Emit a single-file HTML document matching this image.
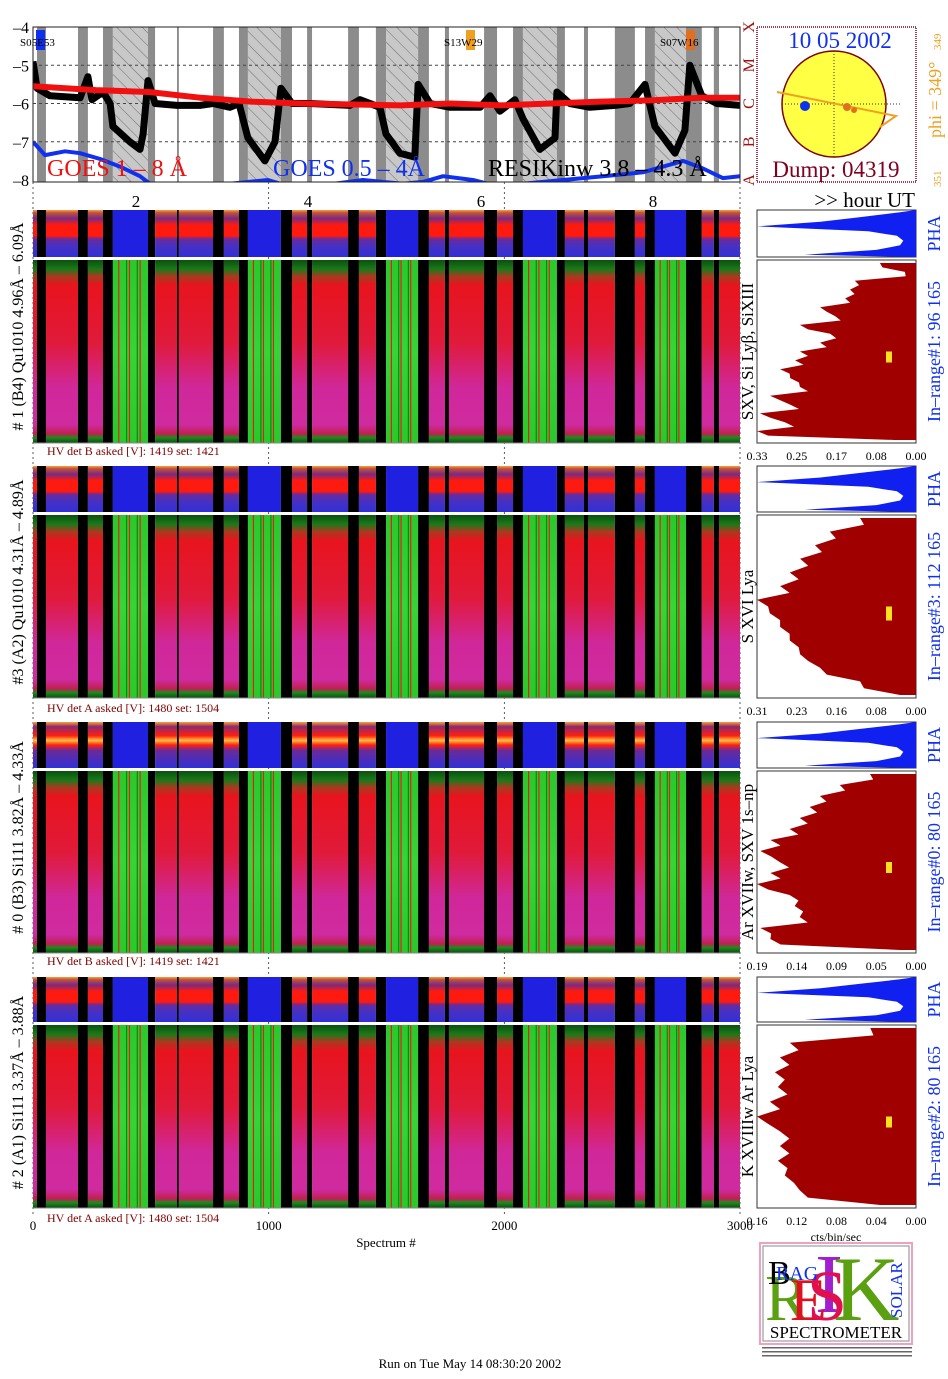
<!DOCTYPE html>
<html><head><meta charset="utf-8"><style>
html,body{margin:0;padding:0;background:#fff;}
svg{display:block;font-family:"Liberation Serif",serif;}
</style></head><body>
<svg id="c" width="948" height="1379" viewBox="0 0 948 1379" xmlns="http://www.w3.org/2000/svg">
<defs>
<pattern id="hatch" patternUnits="userSpaceOnUse" width="9" height="9" patternTransform="rotate(-45)"><rect width="9" height="9" fill="#c8c8c8"/><line x1="0" y1="0" x2="0" y2="9" stroke="#555" stroke-width="0.8"/></pattern>
<linearGradient id="gRed" x1="0" y1="0" x2="0" y2="1">
<stop offset="0" stop-color="#0b4f10"/><stop offset="0.05" stop-color="#1a7a18"/><stop offset="0.09" stop-color="#a83a20"/><stop offset="0.14" stop-color="#e8141e"/><stop offset="0.45" stop-color="#e01a3a"/><stop offset="0.7" stop-color="#d0289a"/><stop offset="0.9" stop-color="#d02aa0"/><stop offset="0.95" stop-color="#c02050"/><stop offset="0.97" stop-color="#1f8a1e"/><stop offset="1" stop-color="#0b4f10"/></linearGradient>
<linearGradient id="gGreen" x1="0" y1="0" x2="0" y2="1">
<stop offset="0" stop-color="#2bc82b"/><stop offset="0.5" stop-color="#36d436"/><stop offset="1" stop-color="#2bc82b"/></linearGradient>
<linearGradient id="gStrip" x1="0" y1="0" x2="0" y2="1">
<stop offset="0" stop-color="#ffa030"/><stop offset="0.06" stop-color="#c05040"/><stop offset="0.18" stop-color="#7a2a80"/><stop offset="0.32" stop-color="#ff1a10"/><stop offset="0.55" stop-color="#ff1a10"/><stop offset="0.62" stop-color="#6a2a9a"/><stop offset="0.75" stop-color="#4a30c0"/><stop offset="1" stop-color="#3030d8"/></linearGradient>
<linearGradient id="gStrip3" x1="0" y1="0" x2="0" y2="1">
<stop offset="0" stop-color="#ffa030"/><stop offset="0.1" stop-color="#8a2a70"/><stop offset="0.3" stop-color="#ff2010"/><stop offset="0.4" stop-color="#ffc040"/><stop offset="0.5" stop-color="#ff2010"/><stop offset="0.62" stop-color="#6a2a9a"/><stop offset="1" stop-color="#3030d8"/></linearGradient>
</defs>
<g id="top"></g>
<g id="panels"></g>
<g id="right"></g>
</svg>
<script>
// ---- data ----
const segStart = [0,17,55,191,233,297,339,488,518,611,619,764,810,874,912,1052,1099,1163,1184,1337,1383,1455,1498,1634,1680,1748,1765,1914,1969,2037,2079,2223,2257,2338,2355,2469,2554,2597,2639,2771,2838,2889,2911];
const segType  = ['r','b','r','b','r','b','g','b','r','b','r','b','r','b','g','b','r','b','r','b','r','b','g','b','r','b','r','b','r','b','g','b','r','b','r','b','r','b','g','b','r','b','r'];
const goesX = [0,267,492,713,925,1137,1561,1773,1985,2197,2409,2621,2833,3000];
const goesLong = [-5.55,-5.65,-5.7,-5.85,-5.95,-6.0,-6.05,-6.0,-6.05,-6.0,-5.95,-5.92,-5.85,-5.85];
const resikX = [0,17,72,200,233,250,297,327,339,411,454,467,488,518,611,708,764,836,874,912,984,1027,1052,1099,1175,1345,1387,1472,1498,1557,1620,1634,1685,1769,1897,1939,1981,2045,2079,2151,2215,2223,2278,2363,2469,2533,2597,2639,2724,2766,2787,2838,2902,3000];
const resikV = [-4.9,-5.6,-5.8,-5.85,-5.3,-5.9,-5.7,-6.0,-6.6,-7.0,-7.2,-6.8,-5.4,-6.0,-6.05,-6.05,-6.0,-6.1,-6.0,-6.9,-7.5,-7.0,-5.6,-6.0,-6.0,-6.05,-5.9,-6.1,-6.8,-7.3,-7.4,-5.5,-6.0,-6.1,-6.1,-5.8,-6.2,-5.9,-6.4,-7.2,-6.9,-5.7,-6.0,-6.1,-6.05,-6.0,-5.5,-6.6,-7.3,-6.7,-5.0,-5.8,-6.0,-6.05];
const shortX = [0,51,136,200,285,369,454,518,836,997,1103,1274,1400,1570,1655,1740,1867,1994,2079,2249,2419,2588,2758,2843,2927,3000];
const goesShort = [-7.0,-7.35,-7.25,-7.3,-7.45,-7.65,-7.9,-8.2,-8.1,-8.0,-8.2,-8.1,-8.0,-8.1,-8.05,-7.9,-8.0,-8.2,-8.1,-8.0,-7.9,-7.8,-7.5,-7.7,-7.95,-7.9];
const yTicks = [-4,-5,-6,-7,-8];
const hourTicks = ['2','4','6','8'];
const hourPos = [136,308,481,653];
const specTicks = [0,1000,2000,3000];
const panelLabels = ['# 1 (B4) Qu1010 4.96Å – 6.09Å','#3 (A2) Qu1010  4.31Å – 4.89Å','# 0 (B3) Si111  3.82Å – 4.33Å','# 2 (A1) Si111  3.37Å – 3.88Å'];
const lineLabels = ['SXV, Si Lyβ, SiXIII','S XVI Lya','Ar XVIIw,  SXV 1s–np','K XVIIIw  Ar Lya'];
const rangeLabels = ['In–range#1:  96 165','In–range#3:  112 165','In–range#0:  80 165','In–range#2:  80 165'];
const hvLabels = ['HV det B asked [V]:  1419 set:  1421','HV det A asked [V]:  1480 set:  1504','HV det B asked [V]:  1419 set:  1421','HV det A asked [V]:  1480 set:  1504'];
const histMax = [0.33,0.31,0.19,0.16];
const histTicks = [['0.33','0.25','0.17','0.08','0.00'],['0.31','0.23','0.16','0.08','0.00'],['0.19','0.14','0.09','0.05','0.00'],['0.16','0.12','0.08','0.04','0.00']];
const hist0 = [0.075,0.023,0.127,0.137,0.147,0.199,0.168,0.241,0.178,0.199,0.241,0.251,0.282,0.261,0.241,0.303,0.261,0.324,0.272,0.33,0.044];
const hist1 = [0.109,0.168,0.197,0.226,0.246,0.265,0.31,0.285,0.265,0.246,0.226,0.187,0.109,0.031];
const hist2 = [0.055,0.091,0.115,0.127,0.139,0.151,0.174,0.186,0.163,0.174,0.19,0.151,0.145,0.139,0.186,0.174,0.019];
const hist3 = [0.046,0.127,0.137,0.142,0.139,0.147,0.16,0.137,0.137,0.139,0.132,0.117,0.036];
const pha = [0.1,0.35,0.6,1.0,0.3,0.12,0.08,0.1,0.25,0.7];

// ---- helpers ----
const NS='http://www.w3.org/2000/svg';
function mk(tag, parent, attrs){const e=document.createElementNS(NS,tag);for(const k in attrs)e.setAttribute(k,attrs[k]);parent.appendChild(e);return e;}
function txt(parent,x,y,s,size,fill,extra){const e=mk('text',parent,Object.assign({x:x,y:y,'font-size':size,fill:fill},extra||{}));e.textContent=s;return e;}
const X0=33,X1=740;
const sx = s => X0 + (s/3000)*(X1-X0);
const TOP=document.getElementById('top'), PAN=document.getElementById('panels'), RT=document.getElementById('right');
const segEnd = i => (i+1<segStart.length?segStart[i+1]:3000);

// ---- top GOES plot ----
const ty = v => 27 + (-4 - v)*(180-27)/4;
const tframe = mk('rect',TOP,{x:X0,y:27,width:X1-X0,height:155,fill:'#fff'});


segStart.forEach((s,i)=>{
  if(segType[i]==='r') return;
  const r=mk('rect',TOP,{x:sx(s),y:27,width:sx(segEnd(i))-sx(s),height:155,fill:segType[i]==='b'?'#8c8c8c':'url(#hatch)'});
  
  
});
[-5,-6,-7].forEach(v=>{const l=mk('line',TOP,{x1:X0,x2:X1,y1:ty(v),y2:ty(v),stroke:'#444','stroke-dasharray':'3,3','stroke-width':1});
  
  });
const clip=mk('clipPath',TOP,{id:'tclip'});mk('rect',clip,{x:X0,y:27,width:X1-X0,height:155});
const cg=mk('g',TOP,{'clip-path':'url(#tclip)'});
function curve(xs,vs,color,w,name){const d=xs.map((x,i)=>(i?'L':'M')+sx(x).toFixed(1)+','+ty(vs[i]).toFixed(1)).join('');
  const p=mk('path',cg,{d:d,fill:'none',stroke:color,'stroke-width':w,'stroke-linejoin':'round'});
  
  }
curve(shortX,goesShort,'#1030f0',4,'goes-short-line');
curve(resikX,resikV,'#000',7,'resik-flux-line');
curve(goesX,goesLong,'#f01010',6,'goes-long-line');
const tb=mk('rect',TOP,{x:X0,y:27,width:X1-X0,height:155,fill:'none',stroke:'#222','stroke-width':1});


yTicks.forEach(v=>{const t=txt(TOP,X0-4,ty(v)+6,String(v).replace('-','–'),16,'#000',{'text-anchor':'end'});
  
  });
['A','B','C','M','X'].forEach((c,i)=>{const t=txt(TOP,748,ty(-8+i)+6,c,16,'#a01010',{'text-anchor':'middle',transform:`rotate(-90 748 ${ty(-8+i)})`});
  
  });
[['S05E53',20,'#1030f0',36],['S13W29',444,'#f0a020',466],['S07W16',660,'#e07020',686]].forEach(a=>{
  const r=mk('rect',TOP,{x:a[3],y:30,width:9,height:20,fill:a[2]});
  const t=txt(TOP,a[1],46,a[0],11,'#000');});
[['GOES 1 – 8 Å',47,'#f01010'],['GOES 0.5 – 4Å',273,'#1030f0'],['RESIKinw 3.8 – 4.3 Å',488,'#000']].forEach(a=>{
  const t=txt(TOP,a[1],176,a[0],24,a[2]);});
specTicks.forEach(s=>{const l=mk('line',TOP,{x1:sx(s),x2:sx(s),y1:182,y2:1215,stroke:'#333','stroke-dasharray':'2,3','stroke-width':0.8});
  });
hourTicks.forEach((h,i)=>{const t=txt(TOP,hourPos[i],207,h,17,'#000',{'text-anchor':'middle'});
  });
{const t=txt(TOP,915,207,'>> hour UT',21,'#000',{'text-anchor':'end'});}

// ---- sun panel ----
{
const f=mk('rect',TOP,{x:757,y:27,width:159,height:155,fill:'#fff',stroke:'#800020','stroke-dasharray':'1,1','stroke-width':1.5});

const s=mk('ellipse',TOP,{cx:834,cy:104,rx:52,ry:53,fill:'#ffff44',stroke:'#800000','stroke-width':1.5});

mk('line',TOP,{x1:834,x2:834,y1:51,y2:157,stroke:'#333','stroke-dasharray':'1,2'});
mk('line',TOP,{x1:782,x2:900,y1:104,y2:104,stroke:'#333','stroke-dasharray':'1,2'});
const a=mk('path',TOP,{d:'M777,92 L896,116 L880,127',fill:'none',stroke:'#f0a020','stroke-width':2});

const b=mk('circle',TOP,{cx:805,cy:106,r:5,fill:'#1030f0'});
mk('circle',TOP,{cx:847,cy:107,r:4,fill:'#e07020'});mk('circle',TOP,{cx:854,cy:110,r:3,fill:'#e07020'});
let t=txt(TOP,840,48,'10 05 2002',23,'#1030f0',{'text-anchor':'middle'});
t=txt(TOP,836,177,'Dump: 04319',23,'#800020',{'text-anchor':'middle'});
t=txt(TOP,0,0,'phi = 349°',18,'#f0a020',{transform:'translate(941,138) rotate(-90)'});
t=txt(TOP,0,0,'349',11,'#f0a020',{transform:'translate(941,50) rotate(-90)'});
t=txt(TOP,0,0,'351',11,'#f0a020',{transform:'translate(941,187) rotate(-90)'});
}

// ---- spectrogram panels ----
const P=[{s:210,se:257,m:260,me:443,hv:455},{s:466,se:512,m:515,me:698,hv:712},{s:722,se:768,m:771,me:953,hv:965},{s:977,se:1022,m:1025,me:1208,hv:1222}];
const hists=[hist0,hist1,hist2,hist3];
P.forEach((p,k)=>{
  const g=mk('g',PAN,{});
  
  
  segStart.forEach((s,i)=>{
    const x=sx(s),w=sx(segEnd(i))-x,t=segType[i];
    const st=mk('rect',g,{x:x,y:p.s,width:w,height:p.se-p.s,fill:t==='b'?'#000':(t==='g'?'#2020e0':(k===2?'url(#gStrip3)':'url(#gStrip)'))});
    
    
    const m=mk('rect',g,{x:x,y:p.m,width:w,height:p.me-p.m,fill:t==='b'?'#000':(t==='g'?'url(#gGreen)':'url(#gRed)')});
    
    
    if(t==='g'){for(let j=1;j<6;j++){const lx=x+w*j/6+((j*7)%5)-2;
      mk('line',g,{x1:lx,x2:lx,y1:p.m,y2:p.me,stroke:j%2?'#e02020':'#0a8a0a','stroke-width':1.2});}}
  });
  mk('line',g,{x1:X0,x2:X1,y1:p.me,y2:p.me,stroke:'#888','stroke-width':1});
  let t=txt(g,47,p.hv,hvLabels[k],12,'#800000');
  const cy=(p.s+p.me)/2;
  t=txt(g,0,0,panelLabels[k],16,'#000',{'text-anchor':'middle',transform:`translate(23,${cy}) rotate(-90)`});
  const RX0=757,RX1=916;
  const pf=mk('rect',RT,{x:RX0,y:p.s,width:RX1-RX0,height:p.se-p.s,fill:'#fff',stroke:'#333'});
  let d='M'+RX1+','+p.s;
  pha.forEach((v,i)=>{d+='L'+(RX1-v*(RX1-RX0)).toFixed(1)+','+(p.s+(i+0.5)*(p.se-p.s)/pha.length).toFixed(1);});
  d+='L'+RX1+','+p.se+'Z';
  const pp=mk('path',RT,{d:d,fill:'#1020f0'});
  t=txt(RT,0,0,'PHA',18,'#1030f0',{'text-anchor':'middle',transform:`translate(940,${(p.s+p.se)/2}) rotate(-90)`});
  const hf=mk('rect',RT,{x:RX0,y:p.m,width:RX1-RX0,height:p.me-p.m,fill:'#fff',stroke:'#333'});
  const h=hists[k],hx=v=>RX1-(v/histMax[k])*(RX1-RX0);
  d='M'+RX1+','+(p.m+3);
  h.forEach((v,i)=>{const yy=p.m+3+i*(p.me-p.m-6)/(h.length-1);d+='L'+hx(v).toFixed(1)+','+yy.toFixed(1);
    if(i<h.length-1){const yn=yy+(p.me-p.m-6)/(h.length-1)/2;d+='L'+hx(v*0.93).toFixed(1)+','+yn.toFixed(1);}});
  d+='L'+RX1+','+(p.me-3)+'Z';
  const hp=mk('path',RT,{d:d,fill:'#a00000'});
  const ym=mk('rect',RT,{x:886,y:p.m+(p.me-p.m)*0.5,width:6,height:k===1?14:11,fill:'#ffe020'});
  histTicks[k].forEach((s,i)=>{const tt=txt(RT,RX0+i*(RX1-RX0)/4,p.me+17,s,12,'#000',{'text-anchor':'middle'});});
  t=txt(RT,0,0,lineLabels[k],17,'#000',{'text-anchor':'middle',transform:`translate(753,${(p.m+p.me)/2}) rotate(-90)`});
  t=txt(RT,0,0,rangeLabels[k],18,'#1030f0',{'text-anchor':'middle',transform:`translate(940,${(p.m+p.me)/2}) rotate(-90)`});
});
specTicks.forEach(s=>{const t=txt(PAN,sx(s),1230,String(s),13,'#000',{'text-anchor':'middle'});});
{let t=txt(PAN,386,1247,'Spectrum #',13,'#000',{'text-anchor':'middle'});
t=txt(RT,836,1241,'cts/bin/sec',12,'#000',{'text-anchor':'middle'});
t=txt(PAN,470,1368,'Run on Tue May 14 08:30:20 2002',13,'#000',{'text-anchor':'middle'});}

// ---- logo ----
{
const L=mk('g',RT,{});
mk('rect',L,{x:760,y:1243,width:152,height:101,fill:'#fff',stroke:'#f0a0c0','stroke-width':2});
mk('rect',L,{x:763,y:1246,width:146,height:95,fill:'#fff',stroke:'#888','stroke-width':1});
const big=[['K',833,1320,92,'#5aa010'],['I',815,1312,84,'#a020d0'],['R',765,1320,66,'#5aa010'],['E',790,1320,60,'#e01020'],['S',807,1320,72,'#e01050']];
big.forEach(b=>txt(L,b[1],b[2],b[0],b[3],b[4]));
txt(L,768,1284,'B',34,'#000');txt(L,776,1280,'RAG',20,'#1030f0');
txt(L,0,0,'SOLAR',17,'#1030f0',{transform:'translate(902,1318) rotate(-90)'});
txt(L,836,1338,'SPECTROMETER',17,'#000',{'text-anchor':'middle'});
for(let i=0;i<3;i++)mk('rect',L,{x:762,y:1347+i*4,width:150,height:1.5,fill:'#666'});
}
</script>
</body></html>
